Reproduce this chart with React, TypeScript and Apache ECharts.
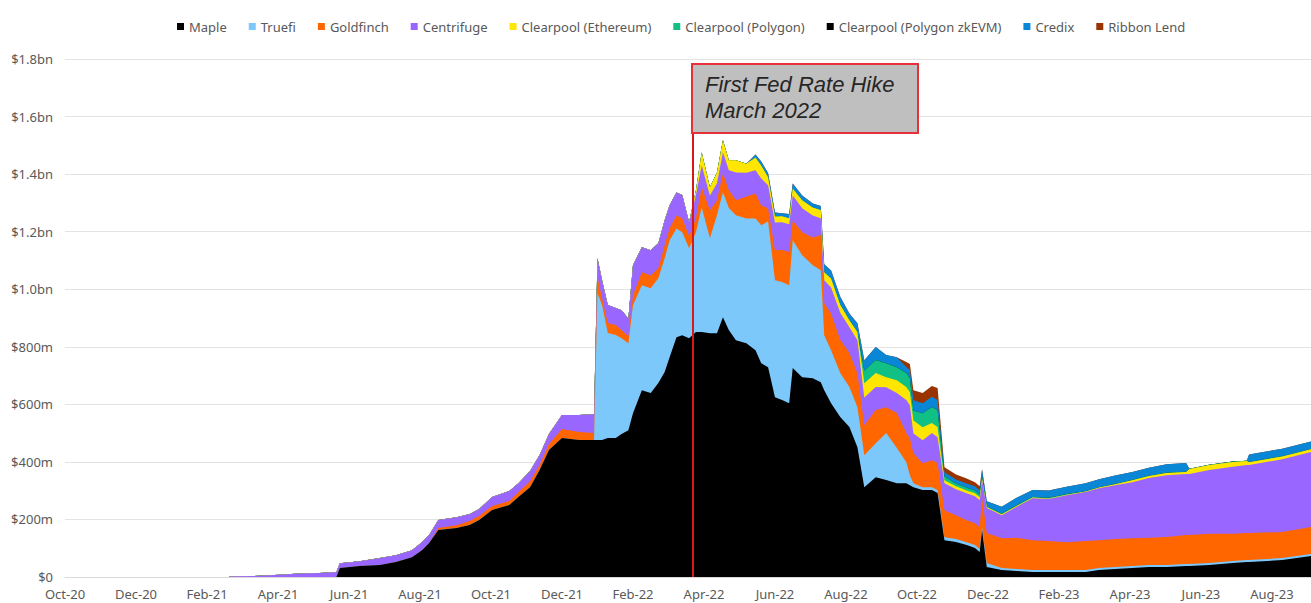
import React, { useEffect, useRef } from "react";
import * as echarts from "echarts";

const dates = [
  "2020-10-01", "2021-02-18", "2021-02-20", "2021-03-15", "2021-04-02", "2021-04-19", "2021-05-06", "2021-05-21",
  "2021-05-24", "2021-06-10", "2021-06-27", "2021-07-11", "2021-07-25", "2021-08-03", "2021-08-09", "2021-08-17",
  "2021-09-02", "2021-09-13", "2021-09-21", "2021-10-02", "2021-10-17", "2021-10-25", "2021-11-04", "2021-11-12",
  "2021-11-20", "2021-12-01", "2021-12-16", "2021-12-29", "2022-01-01", "2022-01-05", "2022-01-10", "2022-01-17",
  "2022-01-22", "2022-01-28", "2022-02-01", "2022-02-08", "2022-02-15", "2022-02-21", "2022-02-26", "2022-03-02",
  "2022-03-08", "2022-03-13", "2022-03-19", "2022-03-25", "2022-03-30", "2022-04-06", "2022-04-12", "2022-04-17",
  "2022-04-22", "2022-04-28", "2022-05-07", "2022-05-15", "2022-05-20", "2022-05-26", "2022-06-01", "2022-06-07",
  "2022-06-13", "2022-06-16", "2022-06-24", "2022-07-03", "2022-07-10", "2022-07-13", "2022-07-19", "2022-07-27",
  "2022-08-04", "2022-08-11", "2022-08-17", "2022-08-27", "2022-09-05", "2022-09-14", "2022-09-22", "2022-09-25",
  "2022-09-28", "2022-10-06", "2022-10-14", "2022-10-19", "2022-10-25", "2022-11-04", "2022-11-13", "2022-11-20",
  "2022-11-24", "2022-11-26", "2022-11-30", "2022-12-13", "2022-12-26", "2023-01-09", "2023-01-23", "2023-02-07",
  "2023-02-22", "2023-03-05", "2023-03-19", "2023-04-03", "2023-04-17", "2023-05-02", "2023-05-19", "2023-05-22",
  "2023-06-08", "2023-06-28", "2023-07-10", "2023-07-12", "2023-08-10", "2023-09-04",
];

// values in $m
const maple = [
  0, 0, 0, 0, 0, 0, 0, 0,
  31, 38, 42, 52, 69, 94, 118, 163,
  170, 181, 198, 233, 250, 278, 312, 371,
  441, 483, 476, 476, 476, 476, 483, 483,
  497, 510, 569, 649, 639, 674, 712, 764,
  833, 840, 830, 851, 851, 847, 847, 903,
  858, 823, 812, 788, 743, 729, 625, 615,
  604, 726, 694, 691, 677, 649, 604, 556,
  521, 451, 312, 347, 337, 326, 326, 319,
  312, 302, 302, 292, 128, 122, 111, 101,
  87, 163, 35, 24, 21, 17, 17, 17,
  17, 24, 28, 31, 35, 35, 38, 38,
  42, 49, 52, 52, 59, 73,
];
const truefi = [
  0, 0, 0, 0, 0, 0, 0, 0,
  0, 0, 0, 0, 0, 0, 0, 0,
  0, 0, 0, 0, 0, 0, 0, 0,
  0, 0, 0, 0, 510, 469, 365, 358,
  333, 302, 375, 365, 364, 364, 396, 406,
  378, 358, 312, 347, 434, 330, 410, 434,
  424, 434, 434, 458, 479, 507, 406, 410,
  410, 444, 424, 392, 389, 191, 184, 153,
  139, 139, 111, 118, 163, 122, 73, 35,
  14, 10, 10, 10, 10, 10, 10, 10,
  10, 10, 14, 7, 7, 7, 7, 7,
  7, 7, 7, 7, 7, 7, 7, 7,
  7, 7, 7, 7, 7, 7,
];
const goldfinch = [
  0, 0, 0, 0, 0, 0, 0, 0,
  0, 0, 0, 0, 0, 0, 0, 7,
  10, 14, 14, 14, 14, 17, 21, 17,
  21, 31, 28, 24, 56, 24, 35, 35,
  28, 24, 35, 45, 45, 35, 45, 42,
  45, 49, 42, 49, 69, 97, 52, 66,
  62, 52, 76, 87, 69, 45, 104, 111,
  115, 69, 80, 97, 122, 111, 128, 115,
  118, 118, 104, 115, 90, 122, 101, 128,
  104, 83, 94, 94, 94, 83, 76, 76,
  76, 104, 104, 104, 108, 104, 101, 97,
  101, 97, 97, 97, 94, 97, 101, 101,
  101, 94, 94, 94, 90, 94,
];
const centrifuge = [
  0, 0, 3, 4, 8, 12, 14, 17,
  17, 17, 24, 24, 24, 28, 28, 28,
  28, 24, 24, 31, 35, 31, 35, 35,
  35, 49, 59, 66, 66, 62, 62, 59,
  69, 62, 104, 87, 87, 87, 87, 80,
  80, 80, 49, 80, 76, 52, 59, 73,
  69, 97, 83, 80, 94, 80, 97, 97,
  97, 87, 83, 76, 59, 80, 90, 94,
  90, 115, 97, 80, 69, 69, 115, 115,
  69, 80, 94, 90, 94, 90, 94, 94,
  94, 59, 87, 80, 108, 146, 146, 163,
  170, 180, 187, 194, 208, 215, 212, 212,
  222, 233, 236, 236, 253, 260,
];
const clearpoolEth = [
  0, 0, 0, 0, 0, 0, 0, 0,
  0, 0, 0, 0, 0, 0, 0, 0,
  0, 0, 0, 0, 0, 0, 0, 0,
  0, 0, 0, 0, 0, 0, 0, 0,
  0, 0, 0, 0, 0, 0, 0, 0,
  0, 0, 0, 17, 45, 28, 38, 42,
  35, 42, 31, 45, 45, 28, 21, 21,
  21, 24, 28, 28, 28, 28, 31, 28,
  24, 28, 49, 49, 35, 45, 45, 45,
  45, 45, 35, 35, 10, 10, 10, 10,
  10, 7, 3, 3, 3, 2, 2, 2,
  2, 3, 3, 7, 7, 7, 7, 17,
  17, 17, 14, 10, 10, 10,
];
const clearpoolPolygon = [
  0, 0, 0, 0, 0, 0, 0, 0,
  0, 0, 0, 0, 0, 0, 0, 0,
  0, 0, 0, 0, 0, 0, 0, 0,
  0, 0, 0, 0, 0, 0, 0, 0,
  0, 0, 0, 0, 0, 0, 0, 0,
  0, 0, 0, 0, 0, 0, 0, 0,
  0, 0, 0, 0, 0, 0, 0, 0,
  0, 0, 0, 0, 0, 0, 0, 0,
  0, 0, 45, 45, 49, 45, 49, 49,
  35, 49, 56, 59, 14, 10, 10, 10,
  10, 7, 3, 2, 2, 2, 2, 2,
  1, 1, 1, 1, 1, 1, 1, 1,
  1, 1, 1, 1, 1, 1,
];
const clearpoolZkEvm = [
  0, 0, 0, 0, 0, 0, 0, 0,
  0, 0, 0, 0, 0, 0, 0, 0,
  0, 0, 0, 0, 0, 0, 0, 0,
  0, 0, 0, 0, 0, 0, 0, 0,
  0, 0, 0, 0, 0, 0, 0, 0,
  0, 0, 0, 0, 0, 0, 0, 0,
  0, 0, 0, 0, 0, 0, 0, 0,
  0, 0, 0, 0, 0, 0, 0, 0,
  0, 0, 0, 0, 0, 0, 0, 0,
  0, 0, 0, 0, 0, 0, 0, 0,
  0, 0, 0, 0, 0, 0, 0, 0,
  0, 0, 0, 0, 0, 0, 0, 0,
  0, 0, 0, 0, 0, 0,
];
const credix = [
  0, 0, 0, 0, 0, 0, 0, 0,
  0, 0, 0, 0, 0, 0, 0, 0,
  0, 0, 0, 0, 0, 0, 0, 0,
  0, 0, 0, 0, 0, 0, 0, 0,
  0, 0, 0, 0, 0, 0, 0, 0,
  0, 0, 0, 0, 0, 0, 0, 0,
  0, 0, 0, 10, 14, 14, 14, 10,
  14, 17, 17, 14, 14, 28, 28, 28,
  24, 31, 35, 45, 28, 35, 21, 28,
  35, 35, 35, 35, 14, 14, 14, 14,
  14, 24, 17, 24, 26, 24, 26, 26,
  28, 28, 30, 28, 28, 30, 30, 0,
  0, 0, 0, 26, 26, 26,
];
const ribbonLend = [
  0, 0, 0, 0, 0, 0, 0, 0,
  0, 0, 0, 0, 0, 0, 0, 0,
  0, 0, 0, 0, 0, 0, 0, 0,
  0, 0, 0, 0, 0, 0, 0, 0,
  0, 0, 0, 0, 0, 0, 0, 0,
  0, 0, 0, 0, 0, 0, 0, 0,
  0, 0, 0, 0, 0, 0, 0, 0,
  0, 0, 0, 0, 0, 0, 0, 0,
  0, 0, 0, 0, 0, 0, 17, 21,
  35, 35, 38, 42, 17, 17, 17, 14,
  14, 0, 0, 0, 0, 0, 0, 0,
  0, 0, 0, 0, 0, 0, 0, 0,
  0, 0, 0, 0, 0, 0,
];

const seriesNames = [
  "Maple", "Truefi", "Goldfinch", "Centrifuge", "Clearpool (Ethereum)",
  "Clearpool (Polygon)", "Clearpool (Polygon zkEVM)", "Credix", "Ribbon Lend",
];
const seriesValues = [maple, truefi, goldfinch, centrifuge, clearpoolEth, clearpoolPolygon, clearpoolZkEvm, credix, ribbonLend];
const seriesColors = ["#000000", "#7cc8fb", "#ff6600", "#9966ff", "#ffe600", "#10c084", "#000000", "#0a86d6", "#993300"];

const yTicks = [0, 200, 400, 600, 800, 1000, 1200, 1400, 1600, 1800];
const eventDate = "2022-03-22";
const eventTitle = ["First Fed Rate Hike", "March 2022"];
const monthNames = ["Jan", "Feb", "Mar", "Apr", "May", "Jun", "Jul", "Aug", "Sep", "Oct", "Nov", "Dec"];

function toMonths(s: string): number {
  const [y, m, d] = s.split("-").map(Number);
  const dim = new Date(y, m, 0).getDate();
  return (y - 2020) * 12 + (m - 10) + (d - 1) / dim;
}

function monthLabel(v: number): string {
  const idx = Math.round(v);
  const abs = 9 + idx; // months since Jan 2020
  const yr = 20 + Math.floor(abs / 12);
  return monthNames[abs % 12] + "-" + String(yr);
}

function money(v: number): string {
  if (v === 0) return "$0";
  if (v >= 1000) return "$" + (v / 1000).toFixed(1) + "bn";
  return "$" + v + "m";
}

export default function App() {
  const ref = useRef<HTMLDivElement>(null);
  useEffect(() => {
    if (!ref.current) return;
    const chart = echarts.init(ref.current, undefined, { renderer: "svg" });
    const font = "'Noto Sans', 'Liberation Sans', sans-serif";
    const boxFont = "italic 22px 'Liberation Sans', Arial, sans-serif";
    const xs = dates.map(toMonths);
    // cumulative stacking (bottom series first)
    const cumulative: number[][] = [];
    seriesValues.forEach((vals, si) => {
      cumulative.push(vals.map((v, i) => v + (si > 0 ? cumulative[si - 1][i] : 0)));
    });
    const built: any[] = seriesNames.map((name, si) => ({
      type: "line",
      name,
      symbol: "none",
      showSymbol: false,
      color: seriesColors[si],
      lineStyle: { width: 0 },
      areaStyle: { color: seriesColors[si], opacity: 1, origin: "start" },
      emphasis: { disabled: true },
      data: xs.map((x, i) => [x, cumulative[si][i]]),
    }));
    built[0].markLine = {
      silent: true,
      symbol: ["none", "none"],
      label: { show: false },
      lineStyle: { color: "#d7191c", width: 2, type: "solid" },
      data: [[{ coord: [toMonths(eventDate), 0] }, { coord: [toMonths(eventDate), 1550] }]],
    };
    // draw top layers first so lower layers paint over them
    const series = built.slice().reverse();
    chart.setOption({
      animation: false,
      legend: {
        data: seriesNames,
        top: 15,
        left: 172,
        icon: "rect",
        itemWidth: 7,
        itemHeight: 7,
        itemGap: 22,
        textStyle: { fontSize: 13, color: "#595959", fontFamily: font },
      },
      grid: { left: 65, right: 0, top: 59, bottom: 26, containLabel: false },
      xAxis: {
        type: "value",
        min: 0,
        max: toMonths(dates[dates.length - 1]),
        interval: 2,
        axisLine: { show: true, lineStyle: { color: "#d9d9d9" } },
        axisTick: { show: false },
        splitLine: { show: false },
        axisLabel: {
          formatter: (v: number) => monthLabel(v),
          color: "#595959",
          fontSize: 13,
          fontFamily: font,
          margin: 10,
          showMinLabel: true,
          showMaxLabel: false,
        },
      },
      yAxis: {
        type: "value",
        min: yTicks[0],
        max: yTicks[yTicks.length - 1],
        interval: 200,
        axisLine: { show: false },
        axisTick: { show: false },
        splitLine: { lineStyle: { color: "#e3e3e3", width: 1 } },
        axisLabel: {
          formatter: (v: number) => money(v),
          color: "#595959",
          fontSize: 13,
          fontFamily: font,
          margin: 12,
        },
      },
      graphic: [
        {
          type: "rect",
          z: 100,
          shape: { x: 692, y: 64, width: 226, height: 69 },
          style: { fill: "#bfbfbf", stroke: "#e8303a", lineWidth: 2 },
        },
        {
          type: "text",
          z: 101,
          x: 705,
          y: 73,
          style: { text: eventTitle[0], fill: "#262626", font: boxFont },
        },
        {
          type: "text",
          z: 101,
          x: 705,
          y: 99,
          style: { text: eventTitle[1], fill: "#262626", font: boxFont },
        },
      ],
      series,
    });
    return () => chart.dispose();
  }, []);
  return (
    <div
      ref={ref}
      style={{ position: "fixed", left: 0, top: 0, width: 1311, height: 603, background: "#ffffff" }}
    />
  );
}
